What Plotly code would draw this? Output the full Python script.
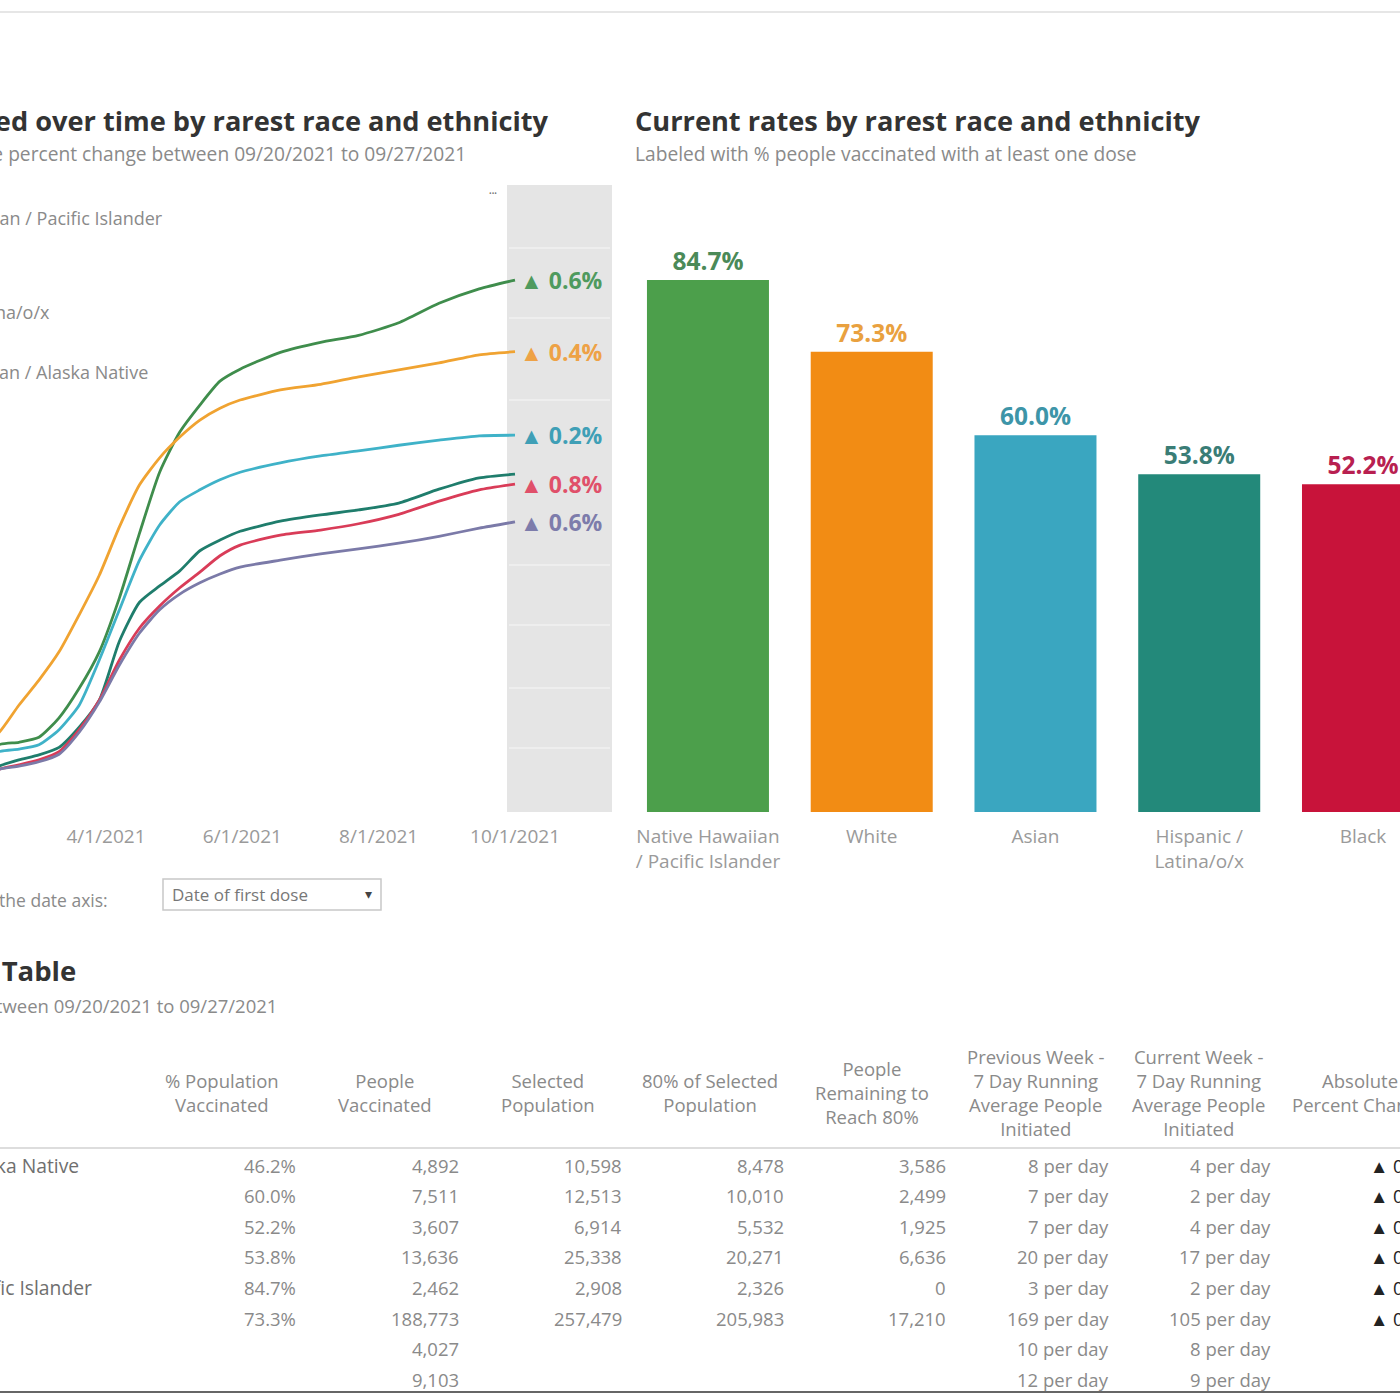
import plotly.graph_objects as go

# ---------------- data ----------------
dates = ["2021-01-25", "2021-02-12", "2021-02-21", "2021-03-02", "2021-03-11", "2021-03-20",
         "2021-03-29", "2021-04-07", "2021-04-16", "2021-04-25", "2021-05-04", "2021-05-13",
         "2021-05-22", "2021-05-31", "2021-06-18", "2021-07-06", "2021-07-23", "2021-08-10",
         "2021-08-28", "2021-09-15", "2021-10-01"]

series_names = ["Native Hawaiian / Pacific Islander", "White", "Asian",
                "Hispanic / Latina/o/x", "Black", "American Indian / Alaska Native"]
series_values = {
    "Native Hawaiian / Pacific Islander": [6.5, 10.7, 11.1, 11.9, 15.0, 19.7, 25.5, 34.1, 44.4, 54.1, 60.5, 64.8, 68.6, 70.5, 73.2, 74.8, 75.9, 77.9, 81.0, 83.3, 84.7],
    "White": [7.5, 12.6, 17.0, 21.0, 25.5, 31.4, 37.7, 45.4, 52.1, 56.4, 59.7, 62.4, 64.3, 65.6, 67.2, 68.1, 69.3, 70.4, 71.5, 72.8, 73.3],
    "Asian": [6.0, 9.6, 10.0, 10.7, 13.1, 17.0, 24.2, 32.2, 40.1, 45.7, 49.4, 51.3, 52.9, 54.1, 55.6, 56.7, 57.5, 58.4, 59.2, 59.9, 60.0],
    "Hispanic / Latina/o/x": [4.5, 7.3, 8.3, 9.1, 10.3, 13.5, 17.8, 27.2, 33.4, 36.0, 38.4, 41.6, 43.3, 44.7, 46.3, 47.3, 48.1, 49.2, 51.4, 53.2, 53.8],
    "Black": [4.0, 6.8, 7.5, 8.3, 9.6, 13.1, 17.8, 24.2, 29.3, 32.8, 35.7, 38.2, 40.8, 42.5, 44.1, 44.9, 45.9, 47.4, 49.5, 51.3, 52.2],
    "American Indian / Alaska Native": [4.0, 6.8, 7.3, 8.0, 9.2, 12.7, 17.5, 23.4, 28.5, 32.2, 34.7, 36.5, 37.9, 39.0, 40.1, 41.1, 41.9, 42.8, 43.9, 45.2, 46.2],
}
change_labels = ["▲ 0.6%", "▲ 0.4%", "▲ 0.2%", None, "▲ 0.8%", "▲ 0.6%"]

line_colors = ["#3f8d4c", "#f0a331", "#3fb2c8", "#1f7d6c", "#d93c58", "#7b7aa8"]
label_colors = ["#4f9a5e", "#eea246", "#3f9fb6", "#3a7d76", "#e0506a", "#7d7cab"]

bar_categories = ["Native Hawaiian<br>/ Pacific Islander", "White", "Asian",
                  "Hispanic /<br>Latina/o/x", "Black", "American Indian<br>/ Alaska Native"]
bar_values = [84.7, 73.3, 60.0, 53.8, 52.2, 46.2]
bar_colors = ["#4c9f4b", "#f28c14", "#3aa6c0", "#23897a", "#c8133a", "#7b78a8"]
bar_label_colors = ["#4b8a58", "#e9a13f", "#3d95a8", "#3a7d76", "#b82050", "#7b78a8"]

x_tick_dates = ["2021-04-01", "2021-06-01", "2021-08-01", "2021-10-01"]
x_tick_text = ["4/1/2021", "6/1/2021", "8/1/2021", "10/1/2021"]

table_headers = ["% Population<br>Vaccinated", "People<br>Vaccinated", "Selected<br>Population",
                 "80% of Selected<br>Population", "People<br>Remaining to<br>Reach 80%",
                 "Previous Week -<br>7 Day Running<br>Average People<br>Initiated",
                 "Current Week -<br>7 Day Running<br>Average People<br>Initiated",
                 "Absolute<br>Percent Change"]
table_races = ["American Indian / Alaska Native", "Asian", "Black", "Hispanic / Latina/o/x",
               "Native Hawaiian / Pacific Islander", "White", "Other", "Unknown"]
pct_vaccinated = ["46.2%", "60.0%", "52.2%", "53.8%", "84.7%", "73.3%", "", ""]
people_vaccinated = ["4,892", "7,511", "3,607", "13,636", "2,462", "188,773", "4,027", "9,103"]
selected_population = ["10,598", "12,513", "6,914", "25,338", "2,908", "257,479", "", ""]
pop_80 = ["8,478", "10,010", "5,532", "20,271", "2,326", "205,983", "", ""]
remaining_80 = ["3,586", "2,499", "1,925", "6,636", "0", "17,210", "", ""]
prev_week = ["8 per day", "7 per day", "7 per day", "20 per day", "3 per day", "169 per day", "10 per day", "12 per day"]
curr_week = ["4 per day", "2 per day", "4 per day", "17 per day", "2 per day", "105 per day", "8 per day", "9 per day"]
abs_change = ["▲ 0.6%", "▲ 0.2%", "▲ 0.8%", "▲ 0.5%", "▲ 0.6%", "▲ 0.4%", "", ""]

# ---------------- layout helpers ----------------
W, H = 1400, 1400
def px(x):
    return x / W
def py(y):
    return 1 - y / H

FONT = "Open Sans"
GREY = "#8a8a8a"
DARK = "#333333"
TICK = "#9a9a9a"

y_top_px, y_base_px = 184, 812
line_right_px = 612

fig = go.Figure()

for i, name in enumerate(series_names):
    fig.add_trace(go.Scatter(
        x=dates, y=series_values[name], mode="lines", name=name,
        line=dict(color=line_colors[i], width=2.8, shape="spline", smoothing=0.6),
        xaxis="x", yaxis="y", showlegend=False, hoverinfo="skip"))

fig.add_trace(go.Bar(
    x=bar_categories, y=bar_values, marker=dict(color=bar_colors, line=dict(width=0)),
    texttemplate="<b>%{y:.1f}%</b>", textposition="outside",
    textfont=dict(family=FONT, size=24.5, color=bar_label_colors),
    xaxis="x2", yaxis="y2", showlegend=False, cliponaxis=False, hoverinfo="skip"))

fig.update_layout(
    width=W, height=H, margin=dict(l=0, r=0, t=0, b=0),
    paper_bgcolor="white", plot_bgcolor="rgba(0,0,0,0)",
    font=dict(family=FONT, color=GREY),
    bargap=0.255,
    xaxis=dict(domain=[0, px(line_right_px)], type="date",
               range=["2021-02-12 13:40", "2021-11-13 09:40"],
               tickvals=x_tick_dates, ticktext=x_tick_text,
               tickfont=dict(family=FONT, size=19, color=TICK), showgrid=False,
               zeroline=False, showline=False, ticks="", ticklabelstandoff=11, anchor="y"),
    yaxis=dict(domain=[py(y_base_px), py(y_top_px)], range=[0, 100],
               visible=False, anchor="x"),
    xaxis2=dict(domain=[px(line_right_px), 1], type="category",
                range=[-0.586, 4.226], tickfont=dict(family=FONT, size=19, color=TICK),
                showgrid=False, showline=False, ticks="", ticklabelstandoff=11, anchor="y2"),
    yaxis2=dict(domain=[py(y_base_px), py(y_top_px)], range=[0, 100],
                visible=False, anchor="x2"),
)

shapes = []
# grey label band
shapes.append(dict(type="rect", xref="paper", yref="paper", x0=px(507), x1=px(612),
                   y0=py(812), y1=py(185), fillcolor="#e5e5e5", line=dict(width=0), layer="below"))
for yy in [248, 318, 400, 565, 625, 688, 748]:
    shapes.append(dict(type="line", xref="paper", yref="paper", x0=px(509), x1=px(610),
                       y0=py(yy), y1=py(yy), line=dict(color="#eeeeee", width=2), layer="below"))
# top hairline
shapes.append(dict(type="line", xref="paper", yref="paper", x0=0, x1=1, y0=py(12), y1=py(12),
                   line=dict(color="#e6e6e6", width=2)))
# dropdown box
shapes.append(dict(type="rect", xref="paper", yref="paper", x0=px(163), x1=px(381),
                   y0=py(910), y1=py(879), line=dict(color="#c8c8c8", width=1.5), fillcolor="white"))
# table header rule and bottom rule
shapes.append(dict(type="line", xref="paper", yref="paper", x0=0, x1=1, y0=py(1148), y1=py(1148),
                   line=dict(color="#dddddd", width=2)))
shapes.append(dict(type="line", xref="paper", yref="paper", x0=0, x1=1, y0=py(1392), y1=py(1392),
                   line=dict(color="#666666", width=2)))
fig.update_layout(shapes=shapes)

ann = []
def text(x, y, t, size=17, color=GREY, xanchor="left", yanchor="middle", bold=False, align="left"):
    ann.append(dict(xref="paper", yref="paper", x=px(x), y=py(y), text=f"<b>{t}</b>" if bold else t,
                    showarrow=False, xanchor=xanchor, yanchor=yanchor, align=align,
                    font=dict(family=FONT, size=size, color=color)))

# titles
text(551, 120, "People vaccinated over time by rarest race and ethnicity", size=27.2, color=DARK, xanchor="right", bold=True)
text(468, 154, "Labeled with absolute percent change between 09/20/2021 to 09/27/2021", size=19.2, xanchor="right")
text(633, 120, "Current rates by rarest race and ethnicity", size=27.2, color=DARK, bold=True)
text(633, 154, "Labeled with % people vaccinated with at least one dose", size=19.2)

# partial legend labels on the left
text(165, 218, "Native Hawaiian / Pacific Islander", size=18, xanchor="right")
text(52, 312, "Hispanic / Latina/o/x", size=18, xanchor="right")
text(150, 372, "American Indian / Alaska Native", size=18, xanchor="right")
text(493, 193, "•••", size=7, color="#777777", xanchor="center")

# line end labels
for i, name in enumerate(series_names):
    if change_labels[i]:
        ann.append(dict(xref="x", yref="y", x=dates[-1], y=series_values[name][-1],
                        text=f"<b>{change_labels[i]}</b>", showarrow=False, xanchor="left",
                        xshift=3, font=dict(family=FONT, size=23, color=label_colors[i])))

# clipped first date tick
ann.append(dict(xref="x", yref="paper", x="2021-02-01", y=py(836), text="2/1/2021",
                showarrow=False, xanchor="center", yanchor="middle",
                font=dict(family=FONT, size=19, color=TICK)))

# date axis control
text(110, 900, "Change the date axis:", size=17.5, xanchor="right")
text(170, 894, "Date of first dose", size=17, color="#777777")
text(368, 893, "▾", size=14, color="#444444", xanchor="center")

# table title
text(78, 970, "Data Table", size=27.5, color=DARK, xanchor="right", bold=True)
text(279, 1005, "Absolute percent change between 09/20/2021 to 09/27/2021", size=18.5, xanchor="right")

col_right = [298, 461, 624, 786, 948, 1111, 1273, 1436]
col_center = [222, 385, 548, 710, 872, 1035, 1198, 1360]
row_y = [1165, 1195, 1226, 1256, 1287, 1318, 1348, 1379]
columns = [pct_vaccinated, people_vaccinated, selected_population, pop_80,
           remaining_80, prev_week, curr_week, abs_change]

for c, h in enumerate(table_headers):
    text(col_center[c], 1092, h, size=18.5, xanchor="center", align="center")
for c, col in enumerate(columns):
    for r, v in enumerate(col):
        if v:
            color = "#222222" if c == len(columns) - 1 else GREY
            text(col_right[c], row_y[r], v, size=18.5, color=color, xanchor="right")
for r, race in enumerate(table_races):
    text(-207, row_y[r], race, size=19.3, color="#6f6f6f")

fig.update_layout(annotations=ann)
fig.write_html("out.html")
